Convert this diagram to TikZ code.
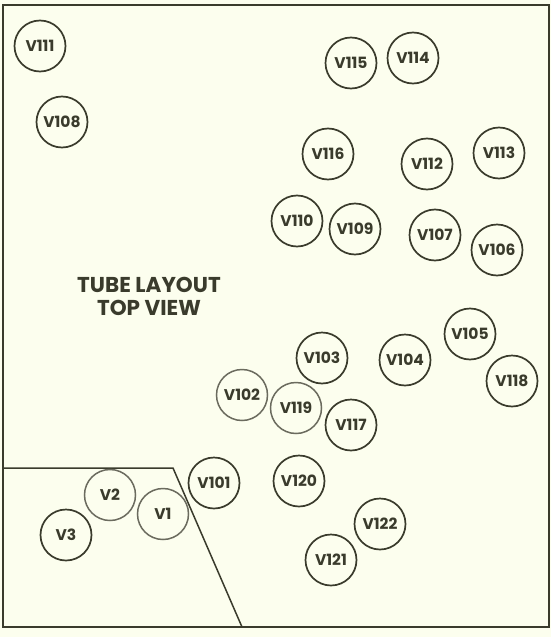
\documentclass[tikz,border=0pt]{standalone}
\usepackage{fontspec}
\setmainfont{Poppins}
\usepackage{xcolor}
\usepackage{tikz}
\usetikzlibrary{positioning}
\definecolor{PaperCream}{HTML}{FCFEEE}
\definecolor{InkOlive}{HTML}{3A3B2C}
\definecolor{InkFaded}{HTML}{6B6B5E}

\begin{document}
\begin{tikzpicture}[x=1pt,y=-1pt,
    tube/.style={draw=InkOlive, circle, line width=1.7pt, minimum size=51pt,
                 inner sep=0pt, text=InkOlive, font=\bfseries\fontsize{15.5}{16}\selectfont},
    faded/.style={tube, draw=InkFaded, line width=1.5pt},
    title/.style={align=center, text=InkOlive, font=\bfseries\fontsize{21.5}{23}\selectfont}]
  \useasboundingbox[fill=PaperCream] (0,0) rectangle (551,637);
  \draw[InkOlive, line width=2pt] (3,5) rectangle (549,627);

  % chassis cut-out
  \coordinate (cutL) at (3,468);
  \coordinate (cutT) at (173,468);
  \coordinate (cutB) at (242,627);
  \draw[InkOlive, line width=1.5pt] (cutL) -- (cutT) -- (cutB);

  \node[title] (heading) at (149,296) {TUBE LAYOUT\\TOP VIEW};

  \node[tube] (v111) at (40,46) {V111};
  \node[tube] (v108) at (62,122) {V108};
  \node[tube] (v115) at (351,63) {V115};
  \node[tube] (v114) at (413,58) {V114};
  \node[tube] (v116) at (328,154) {V116};
  \node[tube] (v112) at (427,164) {V112};
  \node[tube] (v113) at (499,153) {V113};
  \node[tube] (v110) at (297,221) {V110};
  \node[tube] (v109) at (355,229) {V109};
  \node[tube] (v107) at (435,235) {V107};
  \node[tube] (v106) at (497,250) {V106};
  \node[tube] (v105) at (470,334) {V105};
  \node[tube] (v118) at (512,381) {V118};
  \node[tube] (v103) at (322,358) {V103};
  \node[tube] (v104) at (405,360) {V104};
  \node[faded] (v102) at (242,395) {V102};
  \node[faded] (v119) at (296,408) {V119};
  \node[tube] (v117) at (351,425) {V117};
  \node[tube] (v101) at (214,483) {V101};
  \node[tube] (v120) at (299,481) {V120};
  \node[tube] (v122) at (380,524) {V122};
  \node[tube] (v121) at (331,560) {V121};
  \node[faded] (v2) at (110,495) {V2};
  \node[faded] (v1) at (163,514) {V1};
  \node[tube] (v3) at (66,535) {V3};
\end{tikzpicture}
\end{document}
